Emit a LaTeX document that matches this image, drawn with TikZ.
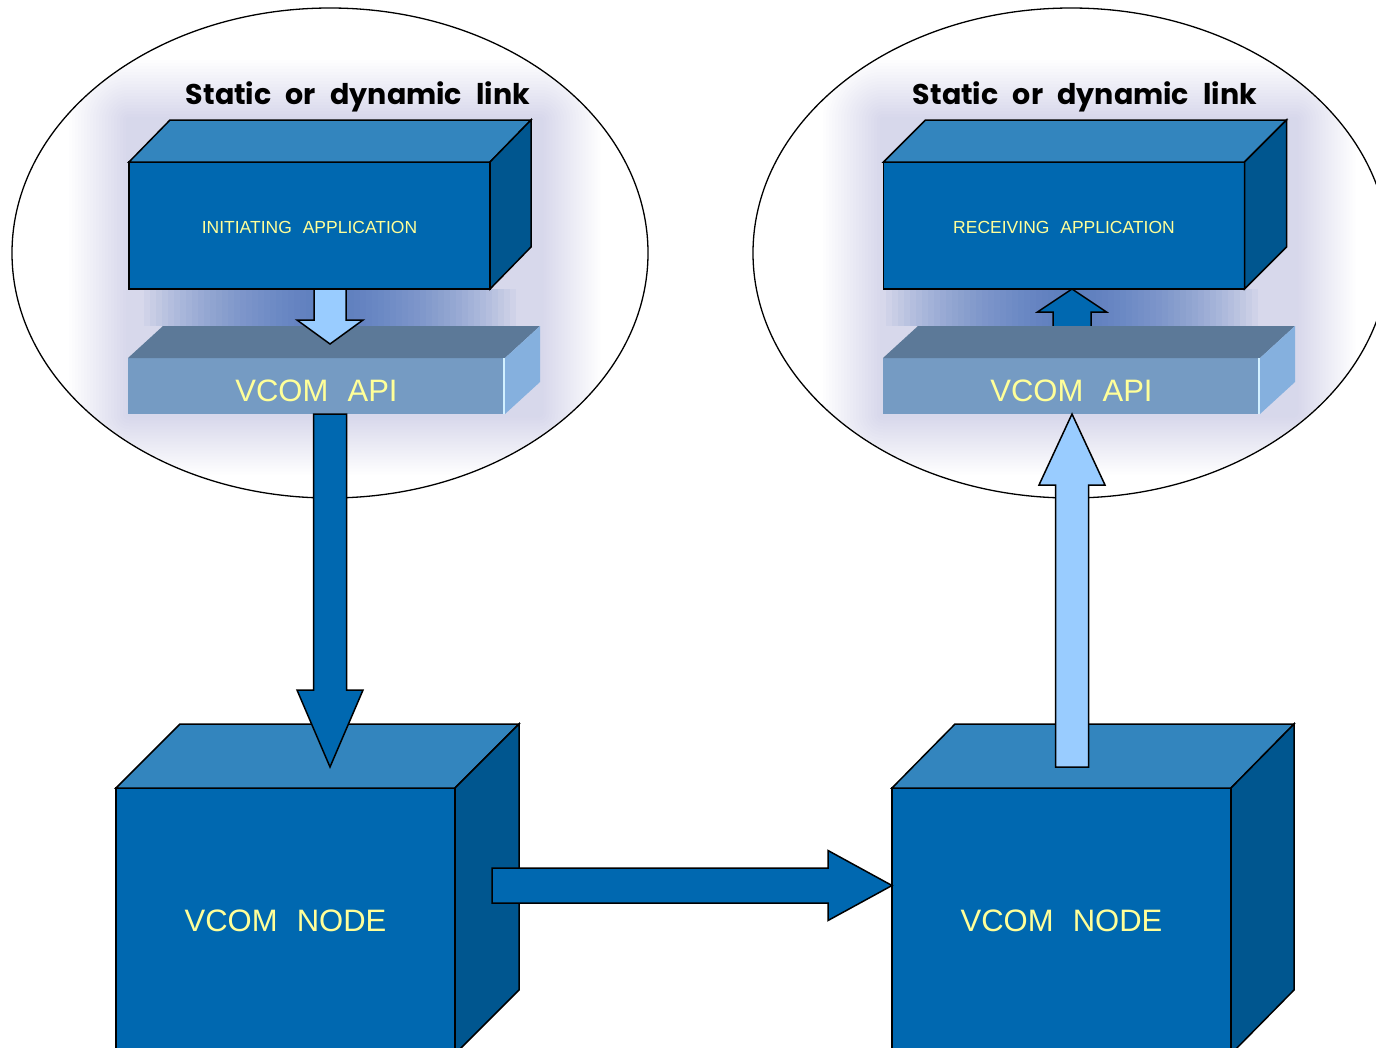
\documentclass[tikz,border=0pt]{standalone}
\usepackage{fontspec}
\setmainfont{Liberation Sans}
\newfontfamily\titlefont{Poppins}
\usetikzlibrary{calc,shapes.geometric}
\definecolor{boxfront}{HTML}{0068B0}
\definecolor{boxtop}{HTML}{3385BE}
\definecolor{boxside}{HTML}{00568F}
\definecolor{barfront}{HTML}{759BC3}
\definecolor{bartop}{HTML}{5C7998}
\definecolor{barside}{HTML}{85B0DE}
\definecolor{barhl}{HTML}{D2F0FF}
\definecolor{lightarrow}{HTML}{99CCFF}
\definecolor{darkarrow}{HTML}{0068B0}
\definecolor{labelyellow}{HTML}{FFFF99}
\definecolor{glowc}{HTML}{A0A6CC}
\definecolor{glowblue}{HTML}{4670BC}
\newcommand\wgap{\hspace{0.62em}}
\newcommand\tgap{\hspace{0.5em}}
\newcommand\cubefaces[3]{%
  \draw[edge, fill=boxtop] (#1.north west) -- ++(#2,-#3) -- ($(#1.north east)+(#2,-#3)$) -- (#1.north east) -- cycle;
  \draw[edge, fill=boxside] (#1.north east) -- ($(#1.north east)+(#2,-#3)$) -- ($(#1.south east)+(#2,-#3)$) -- (#1.south east) -- cycle;}
\newcommand\barfaces[3]{%
  \fill[bartop] (#1.north west) -- ++(#2,-#3) -- ($(#1.north east)+(#2,-#3)$) -- (#1.north east) -- cycle;
  \fill[barside] (#1.north east) -- ($(#1.north east)+(#2,-#3)$) -- ($(#1.south east)+(#2,-#3)$) -- (#1.south east) -- cycle;
  \draw[barhl, line width=2pt] ($(#1.north east)+(-1.5,0)$) -- ($(#1.south east)+(-1.5,0)$);}
\newcommand\glow[3]{%
  \begin{scope}
  \clip (#1) ellipse [x radius=317pt, y radius=244pt];
  \foreach \r in {3,6,...,60}
    \fill[glowc, opacity=0.02, rounded corners=\r pt] ($(#2)+(-\r,-\r)$) rectangle ($(#3)+(\r,\r)$);
  \end{scope}}
\newcommand\gapglow[1]{%
  \foreach \w in {12,18,...,186}
    \fill[glowblue, opacity=0.05] ($(#1)+(-\w,-18.5)$) rectangle ($(#1)+(\w,18.5)$);}
\begin{document}
\begin{tikzpicture}[x=1pt, y=-1pt, line join=miter,
  edge/.style={draw=black, line width=1.5pt},
  linkzone/.style={draw=black, line width=1.3pt, fill=white, ellipse, inner sep=0pt, outer sep=0pt, minimum width=636pt, minimum height=490pt},
  frontface/.style={edge, fill=boxfront, text=labelyellow, inner sep=0pt, outer sep=0pt},
  appbox/.style={frontface, minimum width=361pt, minimum height=127pt, text height=15.5pt, text depth=0pt, font=\fontsize{17.5}{20}\selectfont},
  nodebox/.style={frontface, minimum width=339pt, minimum height=266pt, font=\fontsize{31}{36}\selectfont},
  apibar/.style={fill=barfront, text=labelyellow, inner sep=0pt, outer sep=0pt, minimum width=377pt, minimum height=56pt, text height=30pt, text depth=0pt, font=\fontsize{31}{36}\selectfont},
  titletext/.style={anchor=base, inner sep=0pt, font=\titlefont\bfseries\fontsize{28.5}{32}\selectfont},
  lightfill/.style={edge, fill=lightarrow},
  darkfill/.style={edge, fill=darkarrow}]
\path[use as bounding box] (0,0) rectangle (1376,1047);
\begin{scope}
\clip (0,0) rectangle (1376,1047);
\fill[white] (0,0) rectangle (1376,1047);
% link zones
\node[linkzone] (link1) at (330,253) {};
\node[linkzone] (link2) at (1071,253) {};
\glow{link1}{129,120}{540,414}
\glow{link2}{883,120}{1295,414}
\gapglow{330,307.5}
\gapglow{1072,307.5}
% titles
\node[titletext] (title1) at (358,104) {Static\tgap or\tgap dynamic\tgap link};
\node[titletext] (title2) at (1085,104) {Static\tgap or\tgap dynamic\tgap link};
% left application
\node[appbox] (app1) at (309.5,225.5) {INITIATING\wgap APPLICATION};
\cubefaces{app1}{41}{42}
\node[apibar] (bar1) at (316.5,386) {VCOM\wgap API};
\barfaces{bar1}{35}{32}
\draw[lightfill] ($(link1 |- app1.south)+(-16,0)$) -- ($(link1 |- bar1.north)+(-16,-38)$) -- ($(link1 |- bar1.north)+(-33,-38)$) -- ($(link1 |- bar1.north)+(0,-14)$) -- ($(link1 |- bar1.north)+(33,-38)$) -- ($(link1 |- bar1.north)+(16,-38)$) -- ($(link1 |- app1.south)+(16,0)$) -- cycle;
% right application
\node[appbox] (app2) at (1064,225.5) {RECEIVING\wgap APPLICATION};
\cubefaces{app2}{42}{42}
\coordinate (ax2) at (1072,0);
\draw[darkfill] ($(ax2 |- app2.south)+(-19,37)$) -- ($(ax2 |- app2.south)+(-19,23)$) -- ($(ax2 |- app2.south)+(-34.5,23)$) -- (ax2 |- app2.south) -- ($(ax2 |- app2.south)+(34.5,23)$) -- ($(ax2 |- app2.south)+(19,23)$) -- ($(ax2 |- app2.south)+(19,37)$);
\node[apibar] (bar2) at (1071.5,386) {VCOM\wgap API};
\barfaces{bar2}{35}{32}
% VCOM nodes
\node[nodebox] (node1) at (285.5,921) {VCOM\wgap NODE};
\cubefaces{node1}{64}{64}
\node[nodebox] (node2) at (1061.5,921) {VCOM\wgap NODE};
\cubefaces{node2}{63}{64}
% long arrows
\draw[darkfill] ($(link1 |- bar1.south)+(-16.5,0)$) -- ($(link1 |- node1.north)+(-16.5,-98)$) -- ($(link1 |- node1.north)+(-33,-98)$) -- ($(link1 |- node1.north)+(0,-21)$) -- ($(link1 |- node1.north)+(33,-98)$) -- ($(link1 |- node1.north)+(16.5,-98)$) -- ($(link1 |- bar1.south)+(16.5,0)$) -- cycle;
\draw[lightfill] ($(ax2 |- node2.north)+(-16.5,-21)$) -- ($(ax2 |- bar2.south)+(-16.5,71)$) -- ($(ax2 |- bar2.south)+(-33,71)$) -- (ax2 |- bar2.south) -- ($(ax2 |- bar2.south)+(33,71)$) -- ($(ax2 |- bar2.south)+(16.5,71)$) -- ($(ax2 |- node2.north)+(16.5,-21)$) -- cycle;
\coordinate (hstart) at (492,885.5);
\draw[darkfill] ($(hstart)+(0,-17.5)$) -- ($(hstart -| node2.west)+(-64,-17.5)$) -- ($(hstart -| node2.west)+(-64,-35)$) -- (hstart -| node2.west) -- ($(hstart -| node2.west)+(-64,35)$) -- ($(hstart -| node2.west)+(-64,17.5)$) -- ($(hstart)+(0,17.5)$) -- cycle;
\end{scope}
\end{tikzpicture}
\end{document}
